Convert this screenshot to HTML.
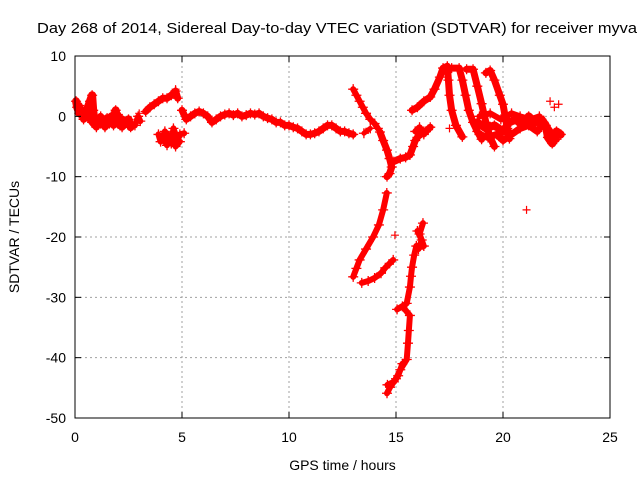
<!DOCTYPE html>
<html><head><meta charset="utf-8"><style>
body{margin:0;background:#fff}
svg{display:block;font-family:"Liberation Sans",sans-serif}
</style></head><body>
<svg id="c" width="640" height="480">
<text x="37" y="33" font-size="15" textLength="600" lengthAdjust="spacingAndGlyphs">Day 268 of 2014, Sidereal Day-to-day VTEC variation (SDTVAR) for receiver myva</text>
<g id="grid"></g><g id="marks"></g><g id="axes"></g>
</svg>
<script>
const xTicks=[0,5,10,15,20,25];
const yTicks=[10,0,-10,-20,-30,-40,-50];
const segA=[[0.05,2.5],[0.1,1.5],[0.2,0.5],[0.3,1],[0.4,0],[0.5,0.5],[0.6,1.5],[0.7,2.5],[0.8,3.5],[0.85,1],[0.9,-0.5],[1.0,-1],[1.1,-0.5],[1.2,-1.2],[1.3,-0.5],[1.4,-1],[1.5,-0.3],[1.6,-1.2],[1.7,0],[1.8,-0.8],[1.9,1],[2.0,-0.8],[2.1,-1.5],[2.2,-0.5],[2.35,-1.2],[2.5,-0.5],[2.6,-1.8]];
const segA1=[[0.2,1.8],[0.4,-0.5],[0.6,0],[0.8,-1],[1.0,-1.8],[1.2,0],[1.4,-1.8],[1.6,-0.5],[1.8,-1.5],[2.0,0.3],[2.2,-1.8],[2.4,-1]];
const segA2=[[2.8,-1.5],[2.95,0],[3.05,-0.8]];
const segB=[[3.3,0.8],[3.5,1.5],[3.7,2],[3.9,2.5],[4.1,3],[4.3,3],[4.5,3.5],[4.7,4.2],[4.8,3]];
const segC=[[3.9,-3],[4.0,-4.2],[4.2,-2.5],[4.4,-3.5],[4.5,-4.5],[4.6,-2],[4.7,-3],[4.8,-4],[4.9,-3],[5.1,-2.8]];
const segC1=[[4.1,-3.5],[4.3,-4.8],[4.5,-3],[4.7,-5],[4.9,-4.2]];
const segD=[[5.0,1],[5.2,-0.5],[5.4,0],[5.6,0.5],[5.8,0.8],[6.0,0.5],[6.2,0],[6.4,-1],[6.6,-0.5],[6.8,0],[7.0,0.3],[7.2,0.5],[7.4,0.2],[7.6,0.5],[7.8,0],[8.0,0.2],[8.2,0.5],[8.4,0.3],[8.6,0.5],[8.8,0],[9.0,-0.3],[9.2,-0.5],[9.4,-1],[9.6,-1],[9.8,-1.5],[10.0,-1.5],[10.2,-1.8],[10.4,-2],[10.6,-2.5],[10.8,-3],[11.0,-3],[11.2,-2.8],[11.4,-2.5],[11.6,-2],[11.8,-1.5],[12.0,-1.5],[12.2,-2],[12.4,-2.5],[12.6,-2.5],[12.8,-2.8],[13.0,-3]];
const segE=[[13.0,4.5],[13.15,3.5],[13.3,2.5],[13.45,1.5],[13.6,0.5],[13.8,-0.5],[14.0,-1.2],[14.15,-2]];
const segE1=[[13.5,-2.8],[13.8,-2]];
const segF=[[14.25,-2.6],[14.4,-4],[14.58,-5.6],[14.7,-7],[14.8,-8.4],[14.7,-9.5],[14.58,-10]];
const segG=[[14.9,-7.5],[15.2,-7],[15.45,-6.8],[15.65,-6.4],[15.8,-5],[15.9,-4],[16.0,-3.5],[16.2,-2.5],[16.4,-2.5],[16.6,-1.8]];
const segG1=[[15.9,-2.5],[16.1,-1.8],[16.3,-3],[16.5,-2.2]];
const segH=[[15.75,1],[16.0,1.5],[16.3,2.5],[16.6,3.2],[16.8,4.5],[17.05,6.5],[17.2,8],[17.4,8.3]];
const loop1=[[17.4,8.2],[17.45,6],[17.5,3.5],[17.6,1],[17.8,-1.5],[18.1,-3.4]];
const loop2=[[17.6,8],[17.95,8],[18.1,6],[18.25,3.5],[18.4,1],[18.6,-1],[18.8,-2.5],[19.0,-3.8]];
const loop3=[[18.3,7.8],[18.6,7.8],[18.8,5],[19.0,2.1],[19.2,-1],[19.4,-3.5],[19.6,-5]];
const loop4=[[19.2,7.2],[19.4,7.6],[19.6,6],[19.85,3.5],[20.0,2],[20.1,0],[20.2,-2],[20.3,-3.7]];
const segTail=[[18.8,-1],[19.2,-2],[19.6,-1.5],[20.0,-2.5],[20.3,-1],[20.6,-0.5],[20.9,-1.5],[21.2,0],[21.5,-1],[21.8,-0.5],[22.0,-1.5],[22.1,-3.5],[22.3,-4.5],[22.5,-2.5],[22.7,-3]];
const segTail1=[[18.9,-3],[19.3,-3.5],[19.7,-3],[20.0,-4],[20.4,-3],[20.8,-2],[21.2,-1.5],[21.6,-2.5],[21.9,-1],[22.2,-2.5],[22.5,-3.8]];
const segTail2=[[18.9,0],[19.4,0.5],[19.9,-0.5],[20.4,0.5],[20.8,0],[21.3,-0.5],[21.7,0]];
const outliers=[[22.2,2.5],[22.6,2],[21.1,-15.5],[14.95,-19.7],[22.4,1.5],[17.5,-2],[3.0,0.5],[4.7,4.5]];
const segI=[[14.57,-12.7],[14.4,-15.5],[14.2,-18],[13.93,-20],[13.6,-22],[13.3,-23.8],[13.15,-25.2],[13.0,-26.6]];
const segJ=[[13.4,-27.6],[13.7,-27.3],[14.0,-26.8],[14.3,-26],[14.5,-25.1],[14.87,-23.8]];
const segK=[[16.26,-17.7],[16.1,-19.5],[16.3,-21.5],[15.95,-21.5],[15.85,-23],[15.75,-25],[15.7,-26.5],[15.65,-28.3],[15.5,-31],[15.05,-32],[15.3,-31.5],[15.65,-33],[15.6,-35.5],[15.56,-37.6],[15.5,-40.3],[15.2,-42],[15.0,-43.5],[14.72,-44.9],[14.58,-45.9]];
const segK1=[[16.0,-19],[16.2,-20.5],[16.05,-22]];
const segK2=[[14.6,-44.5],[14.9,-44],[15.1,-43],[15.3,-41]];
const series=[segA,segA1,segA2,segB,segC,segC1,segD,segE,segE1,segF,segG,segG1,segH,loop1,loop2,loop3,loop4,segTail,segTail1,segTail2,segI,segJ,segK,segK1,segK2];
const thick=[8,7,6,7,6,6,7,6,5,7,7,6,7,7,7,7,7,8,7,6,6,6,6,6,6];

const L=75,R=610,T=56,B=418;
const X=h=>L+(h-0)/25*(R-L);
const Y=v=>T+(10-v)/60*(B-T);
const NS='http://www.w3.org/2000/svg';
function mk(tag,attrs,parent){const e=document.createElementNS(NS,tag);for(const k in attrs)e.setAttribute(k,attrs[k]);parent.appendChild(e);return e;}
const grid=document.getElementById('grid'),axes=document.getElementById('axes'),marks=document.getElementById('marks');
xTicks.forEach(t=>{
  const x=X(t);
  if(t>0&&t<25){const g=mk('line',{x1:x,x2:x,y1:T,y2:B,stroke:'#a0a0a0','stroke-dasharray':'2,3'},grid);
  
  }
  mk('line',{x1:x,x2:x,y1:B,y2:B-6,stroke:'#000'},axes);
  mk('line',{x1:x,x2:x,y1:T,y2:T+6,stroke:'#000'},axes);
  const tx=mk('text',{x:x,y:B+24,'font-size':14,'text-anchor':'middle'},axes);tx.textContent=t;
  
  
});
yTicks.forEach(t=>{
  const y=Y(t);
  if(t<10&&t>-50){const g=mk('line',{x1:L,x2:R,y1:y,y2:y,stroke:'#a0a0a0','stroke-dasharray':'2,3'},grid);
  
  }
  mk('line',{x1:L,x2:L+6,y1:y,y2:y,stroke:'#000'},axes);
  mk('line',{x1:R,x2:R-6,y1:y,y2:y,stroke:'#000'},axes);
  const tx=mk('text',{x:L-9,y:y+5,'font-size':14,'text-anchor':'end'},axes);tx.textContent=t;
  
  
});
const fr=mk('rect',{x:L,y:T,width:R-L,height:B-T,fill:'none',stroke:'#000'},axes);


const xl=mk('text',{x:(L+R)/2,y:470,'font-size':14,'text-anchor':'middle'},axes);xl.textContent='GPS time / hours';


const yl=mk('text',{x:0,y:0,'font-size':14,'text-anchor':'middle',transform:`translate(19,${(T+B)/2}) rotate(-90)`},axes);yl.textContent='SDTVAR / TECUs';


series.forEach((s,i)=>{
  if(s.length>1){
    const p=mk('polyline',{points:s.map(d=>X(d[0])+','+Y(d[1])).join(' '),fill:'none',stroke:'#f00','stroke-width':thick[i],'stroke-linejoin':'round','stroke-linecap':'round'},marks);
    
    
  }
  s.forEach(d=>{
    const x=X(d[0]),y=Y(d[1]);
    const m=mk('path',{d:`M${x-5},${y}h10M${x},${y-5}v10`,stroke:'#f00','stroke-width':1.3},marks);
    
    
  });
});
outliers.forEach(d=>{
  const x=X(d[0]),y=Y(d[1]);
  const m=mk('path',{d:`M${x-4},${y}h8M${x},${y-4}v8`,stroke:'#f00','stroke-width':1.2},marks);
  
  
});
</script>
</body></html>
